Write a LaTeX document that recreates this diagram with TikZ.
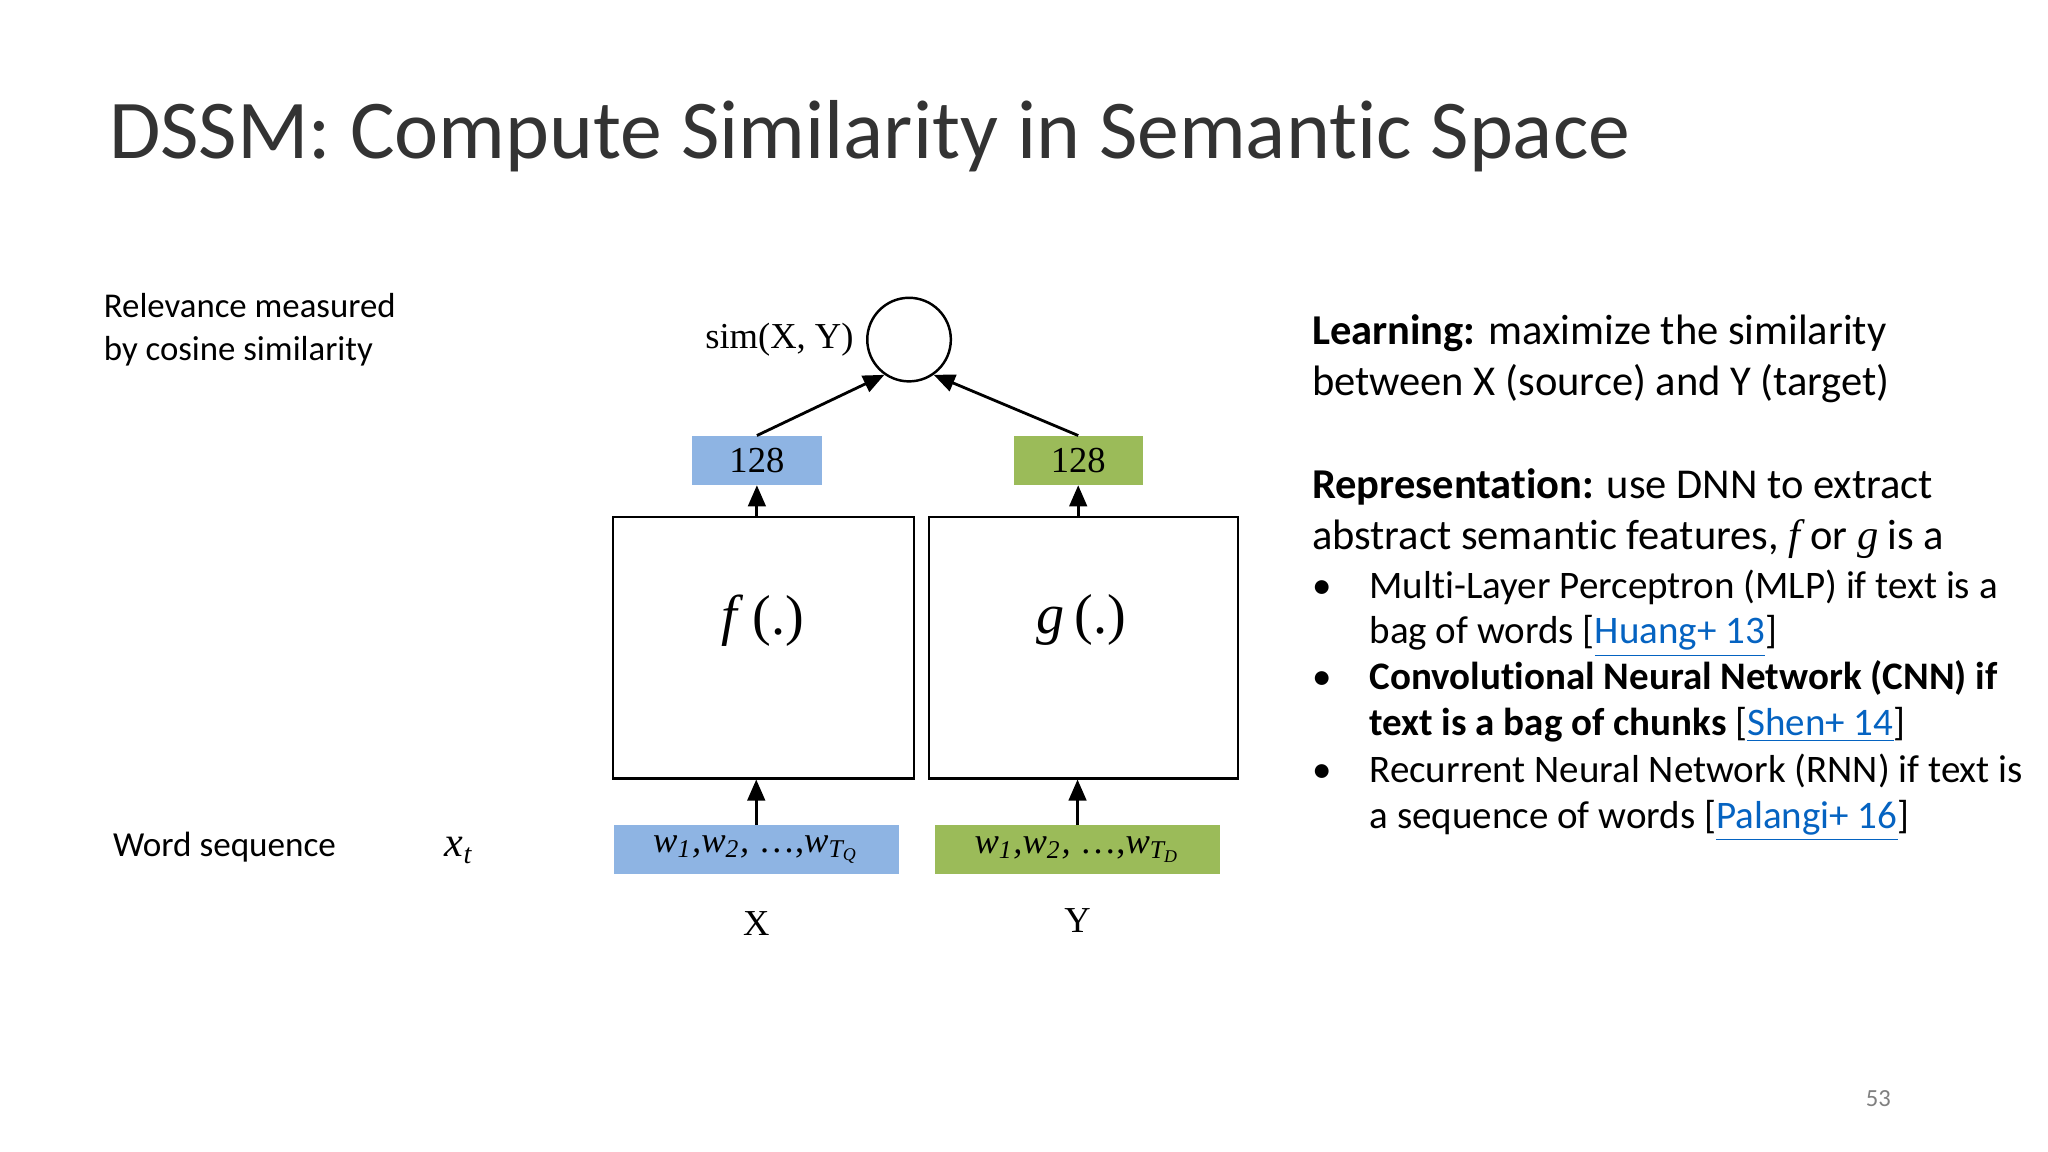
\documentclass[tikz,border=0pt]{standalone}
\usepackage{fontspec}
\setmainfont{Carlito}[Ligatures={NoCommon}]
\newfontfamily\tms{Liberation Serif}
\usetikzlibrary{arrows.meta}
\definecolor{bbox}{HTML}{8EB4E3}
\definecolor{gbox}{HTML}{9BBB59}
\definecolor{lnk}{HTML}{0563C1}
\newcommand{\lk}[1]{\textcolor{lnk}{\underline{#1}}}
\newcommand{\fs}[1]{\fontsize{#1}{#1}\selectfont}
\begin{document}
\begin{tikzpicture}[x=0.01306cm,y=-0.01306cm,
  box/.style={draw=black,line width=0.6pt},
  ar/.style={-{Triangle[length=6pt,width=5pt]},line width=0.8pt},
  txt/.style={inner sep=0,anchor=base west},
  tm/.style={font=\tms\fs{10.4}}]
\useasboundingbox (0,0) rectangle (1568,882);
\node[txt,text=black!80,font=\fs{23.8}] (title) at (83,121) {DSSM: Compute Similarity in Semantic Space};
\node[txt,font=\fs{9.9}] (rel1) at (79,243) {Relevance measured};
\node[txt,font=\fs{9.9}] (rel2) at (79,276) {by cosine similarity};
\node[txt,font=\fs{10}] (ws) at (86,656) {Word sequence};
\node[txt,font=\tms\itshape\fs{12}] (xt) at (340,656) {x\textsubscript{\fs{8}t}};
% diagram
\node[draw,circle,minimum size=64*0.01306cm,inner sep=0,line width=0.7pt] (c) at (696,260) {};
\node[anchor=east,inner sep=0,tm] (sim) at (654,260) {sim(X, Y)};
\node[fill=bbox,minimum width=99*0.01306cm,minimum height=37*0.01306cm,inner sep=0,tm] (b1) at (579.5,352.5) {128};
\node[fill=gbox,minimum width=99*0.01306cm,minimum height=37*0.01306cm,inner sep=0,tm] (g1) at (825.5,352.5) {128};
\node[box,minimum width=231*0.01306cm,minimum height=200*0.01306cm] (f) at (584.5,496) {};
\node[box,minimum width=237*0.01306cm,minimum height=200*0.01306cm] (g) at (829.5,496) {};
\node[font=\tms\fs{16}] (fl) at (584,475) {\textit{f}\,(.)};
\node[font=\tms\fs{16}] (gl) at (828,475) {\textit{g}\,(.)};
\node[fill=bbox,minimum width=218*0.01306cm,minimum height=37*0.01306cm,inner sep=0,font=\tms\itshape\fs{10.4}] (ix) at (579,650.5) {w\textsubscript{1},w\textsubscript{2}, \upshape\ldots,\itshape w\textsubscript{T\textsubscript{Q}}};
\node[fill=gbox,minimum width=218*0.01306cm,minimum height=37*0.01306cm,inner sep=0,font=\tms\itshape\fs{10.4}] (iy) at (825,650.5) {w\textsubscript{1},w\textsubscript{2}, \upshape\ldots,\itshape w\textsubscript{T\textsubscript{D}}};
\node[tm] (X) at (579,707) {X};
\node[tm] (Y) at (825,705) {Y};
\draw[ar] (b1.north) -- (c.235);
\draw[ar] (g1.north) -- (c.-55);
\draw[ar] (f.north -| b1.south) -- (b1.south);
\draw[ar] (g.north -| g1.south) -- (g1.south);
\draw[ar] (ix.north) -- (ix.north |- f.south);
\draw[ar] (iy.north) -- (iy.north |- g.south);
% right text
\begin{scope}[font=\fs{12.1}]
\node[txt] (l1) at (1004,264) {\textbf{Learning:} maximize the similarity};
\node[txt] (l2) at (1004,303) {between X (source) and Y (target)};
\node[txt] (l3) at (1004,382) {\textbf{Representation:} use DNN to extract};
\node[txt] (l4) at (1004,421) {abstract semantic features, {\tms\itshape f} or {\tms\itshape g} is a};
\end{scope}
\begin{scope}[font=\fs{11.1}]
\node[txt] (bu1) at (1004,458) {•};
\node[txt] (bu2) at (1004,528) {•};
\node[txt] (bu3) at (1004,599) {•};
\node[txt] (t1) at (1048,458) {Multi-Layer Perceptron (MLP) if text is a};
\node[txt] (t2) at (1048,493) {bag of words [\lk{Huang+ 13}]};
\node[txt] (t3) at (1048,528) {\textbf{Convolutional Neural Network (CNN) if}};
\node[txt] (t4) at (1048,563) {\textbf{text is a bag of chunks} [\lk{Shen+ 14}]};
\node[txt] (t5) at (1048,599) {Recurrent Neural Network (RNN) if text is};
\node[txt] (t6) at (1048,634) {a sequence of words [\lk{Palangi+ 16}]};
\end{scope}
\node[txt,text=black!50,font=\fs{7}] (pg) at (1428,847) {53};
\end{tikzpicture}
\end{document}
